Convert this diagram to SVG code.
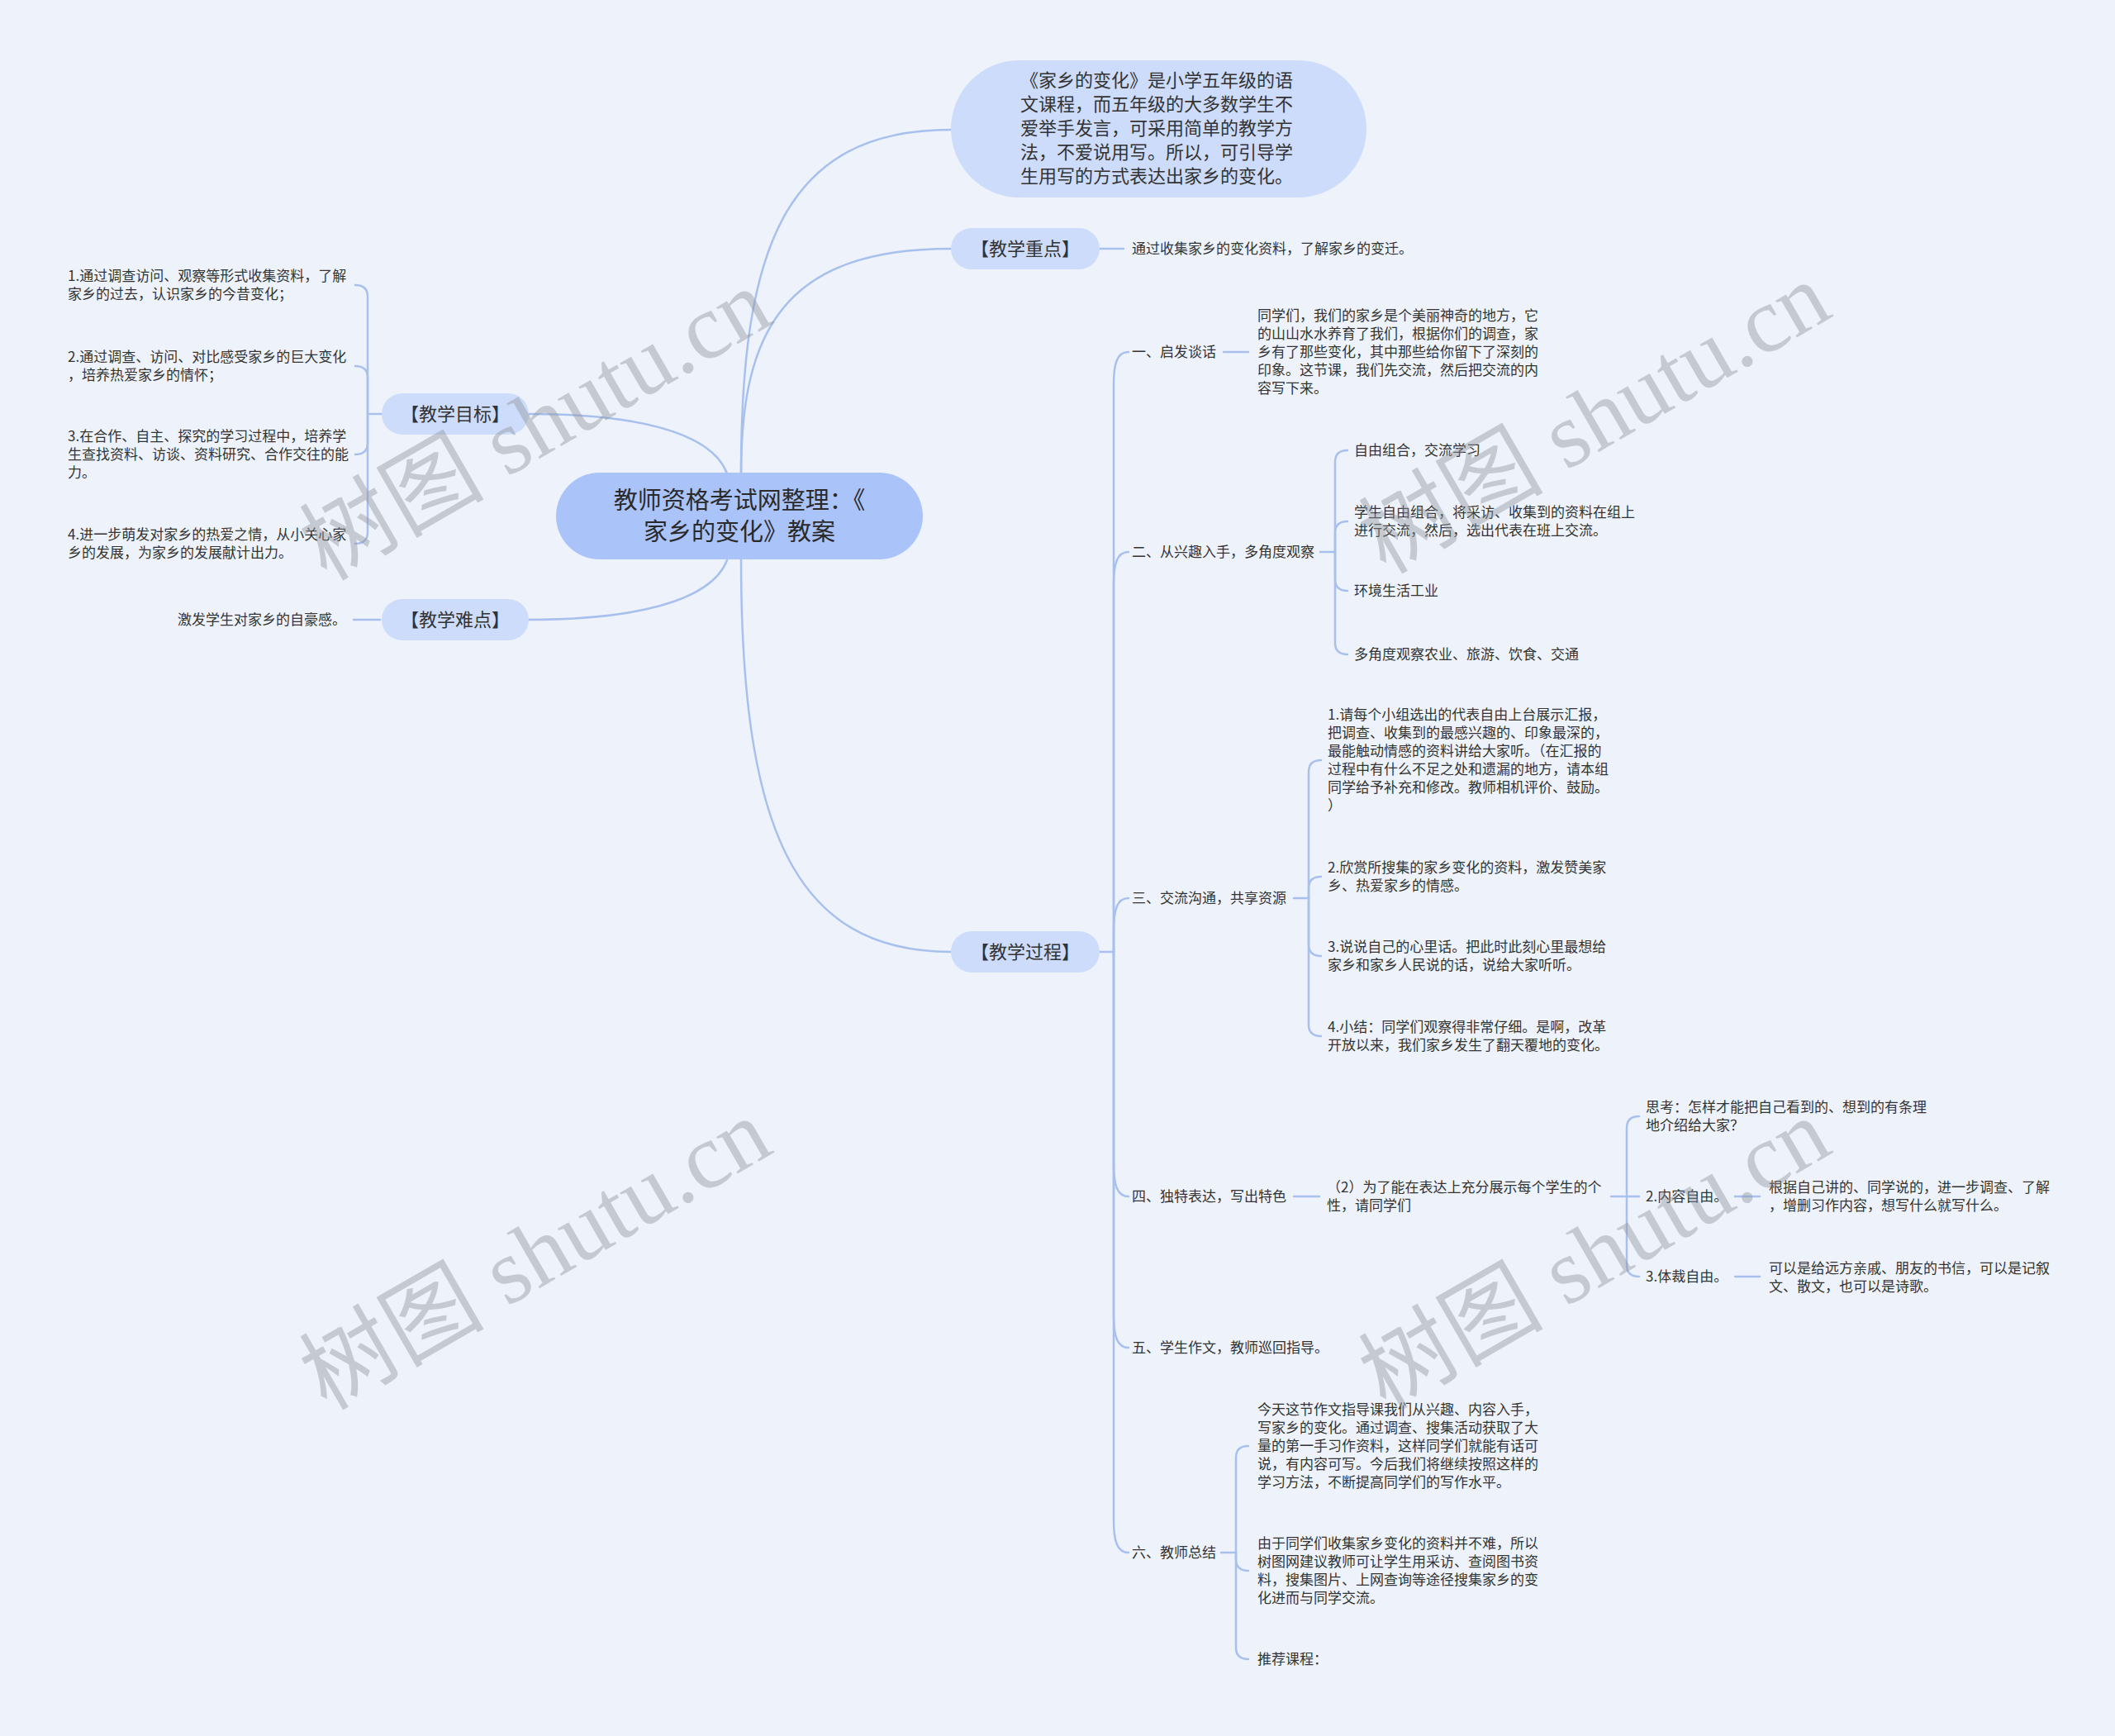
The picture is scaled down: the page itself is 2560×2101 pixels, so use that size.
<svg xmlns="http://www.w3.org/2000/svg" width="2560" height="2101" viewBox="0 0 2560 2101">
<style>
.t{font-family:"Noto Sans CJK SC","Noto Sans",sans-serif;font-size:17px;fill:#333}
.n2{font-size:22px}
.rt{font-size:29px;fill:#2a2a2a}
.c{fill:none;stroke:#a8c0ee;stroke-width:2.5;stroke-linecap:round}
.nb{fill:#cddcfa}
.wm{font-family:"Liberation Serif","Noto Sans CJK SC",serif;font-size:112px;fill:#8e949c;opacity:0.42}
</style>
<rect width="2560" height="2101" fill="#eef3fb"/>

<g id="connectors">
<path class="c" d="M897 573 C897 300 950 157 1151 157"/>
<path class="c" d="M897 573 C897 400 950 301 1151 301"/>
<path class="c" d="M897 676 C897 1000 960 1152 1151 1152"/>
<path class="c" d="M880 573 C860 520 760 501 640 501"/>
<path class="c" d="M880 678 C860 730 760 750 640 750"/>
<path class="c" d="M1331 301 H1360"/>
<path class="c" d="M460 750 H428"/>
<!-- 教学目标 bracket -->
<path class="c" d="M462 501 H445"/>
<path class="c" d="M445 501 V359 Q445 345 430 345"/>
<path class="c" d="M445 501 V457 Q445 443 430 443"/>
<path class="c" d="M445 501 V536 Q445 550 430 550"/>
<path class="c" d="M445 501 V644 Q445 658 430 658"/>
<!-- 教学过程 bracket -->
<path class="c" d="M1331 1152 H1348"/>
<path class="c" d="M1348 1152 V466 C1348 440 1352 426 1366 426"/>
<path class="c" d="M1348 1152 V708 C1348 682 1352 668 1366 668"/>
<path class="c" d="M1348 1152 V1127 C1348 1101 1352 1087 1366 1087"/>
<path class="c" d="M1348 1152 V1408 C1348 1434 1352 1448 1366 1448"/>
<path class="c" d="M1348 1152 V1591 C1348 1617 1352 1631 1366 1631"/>
<path class="c" d="M1348 1152 V1839 C1348 1865 1352 1879 1366 1879"/>
<!-- 一 -->
<path class="c" d="M1481 426 H1511"/>
<!-- 二 bracket -->
<path class="c" d="M1598 668 H1616"/>
<path class="c" d="M1616 668 V559 Q1616 545 1631 545"/>
<path class="c" d="M1616 668 V645 Q1616 631 1631 631"/>
<path class="c" d="M1616 668 V701 Q1616 715 1631 715"/>
<path class="c" d="M1616 668 V778 Q1616 792 1631 792"/>
<!-- 三 bracket -->
<path class="c" d="M1566 1087 H1584"/>
<path class="c" d="M1584 1087 V934 Q1584 920 1599 920"/>
<path class="c" d="M1584 1087 V1075 Q1584 1061 1599 1061"/>
<path class="c" d="M1584 1087 V1143 Q1584 1157 1599 1157"/>
<path class="c" d="M1584 1087 V1240 Q1584 1254 1599 1254"/>
<!-- 四 -->
<path class="c" d="M1566 1448 H1597"/>
<path class="c" d="M1950 1448 H1969"/>
<path class="c" d="M1969 1448 V1365 Q1969 1351 1984 1351"/>
<path class="c" d="M1969 1448 H1984"/>
<path class="c" d="M1969 1448 V1531 Q1969 1545 1984 1545"/>
<path class="c" d="M2100 1448 H2130"/>
<path class="c" d="M2100 1545 H2130"/>
<!-- 六 bracket -->
<path class="c" d="M1478 1879 H1496"/>
<path class="c" d="M1496 1879 V1764 Q1496 1750 1511 1750"/>
<path class="c" d="M1496 1879 V1887 Q1496 1901 1511 1901"/>
<path class="c" d="M1496 1879 V1994 Q1496 2008 1511 2008"/>
</g>

<g id="root">
<rect x="673" y="572" width="444" height="105" rx="52.5" fill="#aac3f9"/>
<text class="t rt" x="895" text-anchor="middle"><tspan x="895" y="616">教师资格考试网整理：《</tspan><tspan x="895" y="654">家乡的变化》教案</tspan></text>
</g>

<g id="desc">
<rect x="1151" y="73" width="503" height="166" rx="83" class="nb"/>
<text class="t n2" text-anchor="middle"><tspan x="1400" y="105">《家乡的变化》是小学五年级的语</tspan><tspan x="1400" y="134">文课程，而五年级的大多数学生不</tspan><tspan x="1400" y="163">爱举手发言，可采用简单的教学方</tspan><tspan x="1400" y="192">法，不爱说用写。所以，可引导学</tspan><tspan x="1400" y="221">生用写的方式表达出家乡的变化。</tspan></text>
</g>

<g id="zhongdian">
<rect x="1151" y="276" width="180" height="50" rx="25" class="nb"/>
<text class="t n2" x="1241" y="309" text-anchor="middle">【教学重点】</text>
</g>
<g id="zhongdian-leaf"><text class="t" x="1370" y="307">通过收集家乡的变化资料，了解家乡的变迁。</text></g>

<g id="mubiao">
<rect x="462" y="476" width="178" height="50" rx="25" class="nb"/>
<text class="t n2" x="551" y="509" text-anchor="middle">【教学目标】</text>
</g>
<g id="mubiao-1"><text class="t"><tspan x="82" y="340">1.通过调查访问、观察等形式收集资料，了解</tspan><tspan x="82" y="362">家乡的过去，认识家乡的今昔变化；</tspan></text></g>
<g id="mubiao-2"><text class="t"><tspan x="82" y="438">2.通过调查、访问、对比感受家乡的巨大变化</tspan><tspan x="82" y="460">，培养热爱家乡的情怀；</tspan></text></g>
<g id="mubiao-3"><text class="t"><tspan x="82" y="534">3.在合作、自主、探究的学习过程中，培养学</tspan><tspan x="82" y="556">生查找资料、访谈、资料研究、合作交往的能</tspan><tspan x="82" y="578">力。</tspan></text></g>
<g id="mubiao-4"><text class="t"><tspan x="82" y="653">4.进一步萌发对家乡的热爱之情，从小关心家</tspan><tspan x="82" y="675">乡的发展，为家乡的发展献计出力。</tspan></text></g>

<g id="nandian">
<rect x="462" y="725" width="178" height="50" rx="25" class="nb"/>
<text class="t n2" x="551" y="758" text-anchor="middle">【教学难点】</text>
</g>
<g id="nandian-leaf"><text class="t" x="419" y="756" text-anchor="end">激发学生对家乡的自豪感。</text></g>

<g id="guocheng">
<rect x="1151" y="1127" width="180" height="50" rx="25" class="nb"/>
<text class="t n2" x="1241" y="1160" text-anchor="middle">【教学过程】</text>
</g>

<g id="s1"><text class="t" x="1370" y="432">一、启发谈话</text></g>
<g id="s1-leaf"><text class="t"><tspan x="1522" y="388">同学们，我们的家乡是个美丽神奇的地方，它</tspan><tspan x="1522" y="410">的山山水水养育了我们，根据你们的调查，家</tspan><tspan x="1522" y="432">乡有了那些变化，其中那些给你留下了深刻的</tspan><tspan x="1522" y="454">印象。这节课，我们先交流，然后把交流的内</tspan><tspan x="1522" y="476">容写下来。</tspan></text></g>

<g id="s2"><text class="t" x="1370" y="674">二、从兴趣入手，多角度观察</text></g>
<g id="s2-1"><text class="t" x="1639" y="551">自由组合，交流学习</text></g>
<g id="s2-2"><text class="t"><tspan x="1639" y="626">学生自由组合，将采访、收集到的资料在组上</tspan><tspan x="1639" y="648">进行交流，然后，选出代表在班上交流。</tspan></text></g>
<g id="s2-3"><text class="t" x="1639" y="721">环境生活工业</text></g>
<g id="s2-4"><text class="t" x="1639" y="798">多角度观察农业、旅游、饮食、交通</text></g>

<g id="s3"><text class="t" x="1370" y="1093">三、交流沟通，共享资源</text></g>
<g id="s3-1"><text class="t"><tspan x="1607" y="871">1.请每个小组选出的代表自由上台展示汇报，</tspan><tspan x="1607" y="893">把调查、收集到的最感兴趣的、印象最深的，</tspan><tspan x="1607" y="915">最能触动情感的资料讲给大家听。（在汇报的</tspan><tspan x="1607" y="937">过程中有什么不足之处和遗漏的地方，请本组</tspan><tspan x="1607" y="959">同学给予补充和修改。教师相机评价、鼓励。</tspan><tspan x="1607" y="981">）</tspan></text></g>
<g id="s3-2"><text class="t"><tspan x="1607" y="1056">2.欣赏所搜集的家乡变化的资料，激发赞美家</tspan><tspan x="1607" y="1078">乡、热爱家乡的情感。</tspan></text></g>
<g id="s3-3"><text class="t"><tspan x="1607" y="1152">3.说说自己的心里话。把此时此刻心里最想给</tspan><tspan x="1607" y="1174">家乡和家乡人民说的话，说给大家听听。</tspan></text></g>
<g id="s3-4"><text class="t"><tspan x="1607" y="1249">4.小结：同学们观察得非常仔细。是啊，改革</tspan><tspan x="1607" y="1271">开放以来，我们家乡发生了翻天覆地的变化。</tspan></text></g>

<g id="s4"><text class="t" x="1370" y="1454">四、独特表达，写出特色</text></g>
<g id="s4-1"><text class="t"><tspan x="1606" y="1443">（2）为了能在表达上充分展示每个学生的个</tspan><tspan x="1606" y="1465">性，请同学们</tspan></text></g>
<g id="s4-a"><text class="t"><tspan x="1992" y="1346">思考：怎样才能把自己看到的、想到的有条理</tspan><tspan x="1992" y="1368">地介绍给大家？</tspan></text></g>
<g id="s4-b"><text class="t" x="1992" y="1454">2.内容自由。</text></g>
<g id="s4-b-leaf"><text class="t"><tspan x="2141" y="1443">根据自己讲的、同学说的，进一步调查、了解</tspan><tspan x="2141" y="1465">，增删习作内容，想写什么就写什么。</tspan></text></g>
<g id="s4-c"><text class="t" x="1992" y="1551">3.体裁自由。</text></g>
<g id="s4-c-leaf"><text class="t"><tspan x="2141" y="1541">可以是给远方亲戚、朋友的书信，可以是记叙</tspan><tspan x="2141" y="1563">文、散文，也可以是诗歌。</tspan></text></g>

<g id="s5"><text class="t" x="1370" y="1637">五、学生作文，教师巡回指导。</text></g>

<g id="s6"><text class="t" x="1370" y="1885">六、教师总结</text></g>
<g id="s6-1"><text class="t"><tspan x="1522" y="1712">今天这节作文指导课我们从兴趣、内容入手，</tspan><tspan x="1522" y="1734">写家乡的变化。通过调查、搜集活动获取了大</tspan><tspan x="1522" y="1756">量的第一手习作资料，这样同学们就能有话可</tspan><tspan x="1522" y="1778">说，有内容可写。今后我们将继续按照这样的</tspan><tspan x="1522" y="1800">学习方法，不断提高同学们的写作水平。</tspan></text></g>
<g id="s6-2"><text class="t"><tspan x="1522" y="1874">由于同学们收集家乡变化的资料并不难，所以</tspan><tspan x="1522" y="1896">树图网建议教师可让学生用采访、查阅图书资</tspan><tspan x="1522" y="1918">料，搜集图片、上网查询等途径搜集家乡的变</tspan><tspan x="1522" y="1940">化进而与同学交流。</tspan></text></g>
<g id="s6-3"><text class="t" x="1522" y="2014">推荐课程：</text></g>

<g id="watermarks">
<text class="wm" text-anchor="middle" transform="translate(648 514) rotate(-30)" y="38">树图 shutu.cn</text>
<text class="wm" text-anchor="middle" transform="translate(1930 506) rotate(-30)" y="38">树图 shutu.cn</text>
<text class="wm" text-anchor="middle" transform="translate(648 1518) rotate(-30)" y="38">树图 shutu.cn</text>
<text class="wm" text-anchor="middle" transform="translate(1930 1518) rotate(-30)" y="38">树图 shutu.cn</text>
</g>
</svg>
